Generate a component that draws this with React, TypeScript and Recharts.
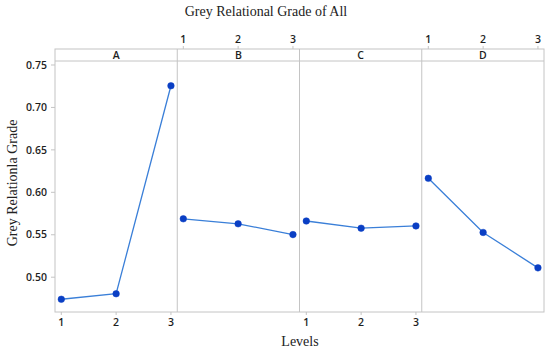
import React from 'react';
import { LineChart, Line, XAxis, YAxis } from 'recharts';

// factor levels and mean grey relational grade per level
const levels = [1, 2, 3];
const factorNames = ['A', 'B', 'C', 'D'];
const aValues = [0.474, 0.4805, 0.7255];
const bValues = [0.5688, 0.5629, 0.5502];
const cValues = [0.5662, 0.5577, 0.5604];
const dValues = [0.6165, 0.5527, 0.511];
const yTicks = [0.5, 0.55, 0.6, 0.65, 0.7, 0.75];

const W = 550;
const H = 353;
const plotLeft = 55;
const plotRight = 544;
const plotTop = 61;
const plotBottom = 312;
const stripTop = 49;
const panelW = (plotRight - plotLeft) / 4;
const chartTop = 26;
const chartH = 306;

const frameColor = '#c4c4c4';
const tickColor = '#1e1e1e';
const tickFont = '"Open Sans", sans-serif';

// top axis sits above the factor strip, so draw the tick mark and label offset upward
const TopTick = (props: any) => {
  const { x, y, payload } = props;
  return (
    <g>
      <line x1={x} x2={x} y1={y - 12} y2={y - 15} stroke={frameColor} />
      <text x={x} y={y - 18.5} textAnchor="middle" fontSize={10.5} fontWeight={600} fontFamily={tickFont} fill={tickColor}>
        {payload.value}
      </text>
    </g>
  );
};

const Panel = ({ index, values }: { index: number; values: number[] }) => {
  const data = levels.map((l, i) => ({ level: l, grade: values[i] }));
  const top = index % 2 === 1;
  const withY = index === 0;
  const left = withY ? 0 : plotLeft + index * panelW;
  const width = withY ? plotLeft + panelW : panelW;
  return (
    <div style={{ position: 'absolute', left, top: chartTop }}>
      <LineChart
        width={width}
        height={chartH}
        data={data}
        margin={top ? { top: 15, right: 0, bottom: 20, left: 0 } : { top: 35, right: 0, bottom: 0, left: 0 }}
      >
        <XAxis
          dataKey="level"
          type="number"
          domain={[0.885, 3.115]}
          ticks={levels}
          orientation={top ? 'top' : 'bottom'}
          height={20}
          axisLine={false}
          tickLine={top ? false : { stroke: frameColor }}
          tickSize={top ? 0 : 3}
          tickMargin={top ? 0 : 4}
          tick={top ? <TopTick /> : { fontSize: 10.5, fontWeight: 600, fontFamily: tickFont, fill: tickColor }}
          allowDataOverflow
        />
        <YAxis
          hide={!withY}
          width={plotLeft}
          type="number"
          domain={[0.459, 0.7547]}
          ticks={yTicks}
          tickFormatter={(v: number) => v.toFixed(2)}
          axisLine={false}
          tickLine={{ stroke: frameColor }}
          tickSize={4}
          tickMargin={4}
          tick={{ fontSize: 10.5, fontWeight: 600, fontFamily: tickFont, fill: tickColor }}
          allowDataOverflow
        />
        <Line
          type="linear"
          dataKey="grade"
          stroke="#3a7fd8"
          strokeWidth={1.3}
          dot={{ r: 3.3, fill: '#0a3fc4', stroke: '#0a3fc4', strokeWidth: 0.5 }}
          isAnimationActive={false}
        />
      </LineChart>
    </div>
  );
};

export default function App() {
  const panelValues = [aValues, bValues, cValues, dValues];
  return (
    <div style={{ position: 'absolute', left: 0, top: 0, width: W, height: H, background: '#fff' }}>
      <svg width={W} height={H} style={{ position: 'absolute', left: 0, top: 0 }}>
        <rect x={plotLeft} y={stripTop} width={plotRight - plotLeft} height={plotBottom - stripTop} fill="none" stroke={frameColor} />
        <line x1={plotLeft} x2={plotRight} y1={plotTop} y2={plotTop} stroke={frameColor} />
        {[1, 2, 3].map((i) => (
          <line key={i} x1={plotLeft + i * panelW} x2={plotLeft + i * panelW} y1={stripTop} y2={plotBottom} stroke={frameColor} />
        ))}
        {factorNames.map((n, i) => (
          <text key={n} x={plotLeft + (i + 0.5) * panelW} y={59} textAnchor="middle" fontSize={10.5} fontWeight={600} fontFamily={tickFont} fill={tickColor}>
            {n}
          </text>
        ))}
        <text x={266} y={16} textAnchor="middle" fontSize={14} fontFamily='"Liberation Serif", serif' fill="#222">
          Grey Relational Grade of All
        </text>
        <text x={300} y={346} textAnchor="middle" fontSize={14} fontFamily='"Liberation Serif", serif' fill="#222">
          Levels
        </text>
        <text
          transform="translate(17,183) rotate(-90)"
          textAnchor="middle"
          fontSize={14}
          fontFamily='"Liberation Serif", serif'
          fill="#222"
        >
          Grey Relationla Grade
        </text>
      </svg>
      {panelValues.map((v, i) => (
        <Panel key={factorNames[i]} index={i} values={v} />
      ))}
    </div>
  );
}
